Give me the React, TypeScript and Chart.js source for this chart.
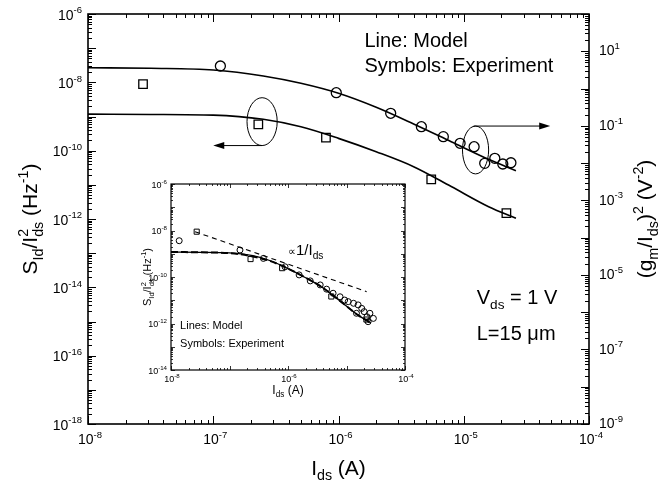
import React, { useEffect, useRef } from 'react';
import { Chart, registerables } from 'chart.js';

Chart.register(...registerables);

const W = 663;
const H = 487;
const FONT = '"Liberation Sans", Arial, Helvetica, sans-serif';

// ---------- main panel data ----------
const squareCurrent = [2.75e-8, 2.29e-7, 7.94e-7, 5.5e-6, 2.19e-5];
const squareNoise = [8.9e-9, 5.9e-10, 2.4e-10, 1.45e-11, 1.48e-12];

const circleCurrent = [1.14e-7, 9.6e-7, 2.61e-6, 4.59e-6, 6.87e-6, 9.35e-6, 1.21e-5, 1.47e-5, 1.77e-5, 2.05e-5, 2.38e-5];
const circleGm = [4.03, 0.773, 0.217, 0.0946, 0.0511, 0.034, 0.0275, 0.00986, 0.0134, 0.00944, 0.0102];

const modelCurrent = [1e-8, 3.16e-8, 1e-7, 2.51e-7, 5.01e-7, 1e-6, 2e-6, 3.98e-6, 7.94e-6, 1.58e-5, 2.61e-5];
const modelNoise = [1.17e-9, 1.15e-9, 1.1e-9, 8.3e-10, 5.0e-10, 2.29e-10, 9.3e-11, 3.39e-11, 8.9e-12, 2.29e-12, 1.05e-12];
const modelGm = [3.62, 3.49, 3.14, 2.17, 1.38, 0.745, 0.314, 0.112, 0.0375, 0.0126, 0.00625];

// ---------- inset data ----------
const insetCircleCurrent = [1.38e-8, 1.51e-7, 3.8e-7, 8.9e-7, 1.55e-6, 2.4e-6, 3.55e-6, 4.57e-6, 5.9e-6, 7.76e-6, 9.3e-6, 1.07e-5, 1.32e-5, 1.48e-5, 1.58e-5, 1.82e-5, 2.0e-5, 2.24e-5, 2.51e-5, 2.88e-5, 2.34e-5];
const insetCircleNoise = [3.63e-9, 1.45e-9, 6.3e-10, 2.75e-10, 1.23e-10, 6.8e-11, 4.57e-11, 3.0e-11, 2.0e-11, 1.41e-11, 1.02e-11, 8.7e-12, 7.4e-12, 2.75e-12, 6.3e-12, 4.47e-12, 3.24e-12, 1.95e-12, 2.75e-12, 1.66e-12, 1.2e-12];
const insetDashedNoise = [1.2e-9, 1.15e-9, 1.07e-9, 7.6e-10, 4.8e-10, 2.29e-10, 9.3e-11, 3.39e-11, 8.9e-12, 2.29e-12, 1.05e-12];
const slopeCurrent = [2.57e-8, 2.21e-5];
const slopeNoise = [8.9e-9, 2.34e-11];

// ---------- tick labels ----------
const xLabelExps = [-8, -7, -6, -5, -4];
const leftLabelExps = [-6, -8, -10, -12, -14, -16, -18];
const rightLabelExps = [1, -1, -3, -5, -7, -9];
const insetXLabelExps = [-8, -6, -4];
const insetYLabelExps = [-6, -8, -10, -12, -14];

// ---------- annotations (data coordinates) ----------
const ellipseLeft = { xMin: 1.86e-7, xMax: 3.24e-7, yMin: 1.41e-10, yMax: 3.55e-9 };
const arrowLeft = { x0: 2.45e-7, x1: 1.0e-7, y: 1.41e-10 };
const ellipseRight = { xMin: 9.77e-6, xMax: 1.58e-5, yMin: 2.09e-11, yMax: 5.25e-10 };
const arrowRight = { x0: 1.2e-5, x1: 4.9e-5, y: 5.25e-10 };

type Seg = { t: string; k?: 'sup' | 'sub' | 'ss'; t2?: string; r?: number };

const fnt = (s: number) => `${s}px ${FONT}`;
const SMALL = 0.68;

function segsWidth(ctx: CanvasRenderingContext2D, segs: Seg[], size: number) {
  let w = 0;
  for (const s of segs) {
    if (!s.k) {
      ctx.font = fnt(size * (s.r || 1));
      w += ctx.measureText(s.t).width;
    } else if (s.k === 'ss') {
      ctx.font = fnt(size * SMALL);
      w += Math.max(ctx.measureText(s.t).width, ctx.measureText(s.t2 || '').width);
    } else {
      ctx.font = fnt(size * SMALL);
      w += ctx.measureText(s.t).width;
    }
  }
  return w;
}

function drawSegs(ctx: CanvasRenderingContext2D, segs: Seg[], x: number, y: number, size: number, align: 'left' | 'center' | 'right') {
  const w = segsWidth(ctx, segs, size);
  let cx = align === 'left' ? x : align === 'center' ? x - w / 2 : x - w;
  ctx.textAlign = 'left';
  ctx.textBaseline = 'alphabetic';
  for (const s of segs) {
    if (!s.k) {
      ctx.font = fnt(size * (s.r || 1));
      ctx.fillText(s.t, cx, y);
      cx += ctx.measureText(s.t).width;
    } else if (s.k === 'sup') {
      ctx.font = fnt(size * SMALL);
      ctx.fillText(s.t, cx, y - size * 0.45);
      cx += ctx.measureText(s.t).width;
    } else if (s.k === 'sub') {
      ctx.font = fnt(size * SMALL);
      ctx.fillText(s.t, cx, y + size * 0.25);
      cx += ctx.measureText(s.t).width;
    } else {
      ctx.font = fnt(size * SMALL);
      ctx.fillText(s.t, cx, y - size * 0.45);
      ctx.fillText(s.t2 || '', cx, y + size * 0.25);
      cx += Math.max(ctx.measureText(s.t).width, ctx.measureText(s.t2 || '').width);
    }
  }
}

const pow = (e: number): Seg[] => [{ t: '10' }, { t: String(e), k: 'sup' }];

function logTicks(lo: number, hi: number) {
  const out: { v: number; major: boolean }[] = [];
  for (let d = lo; d < hi; d++) for (let m = 1; m < 10; m++) out.push({ v: m * Math.pow(10, d), major: m === 1 });
  out.push({ v: Math.pow(10, hi), major: true });
  return out;
}

function drawRotated(ctx: CanvasRenderingContext2D, segs: Seg[], cx: number, cy: number, size: number) {
  ctx.save();
  ctx.translate(cx, cy);
  ctx.rotate(-Math.PI / 2);
  drawSegs(ctx, segs, 0, size * 0.35, size, 'center');
  ctx.restore();
}

function arrowHead(ctx: CanvasRenderingContext2D, x: number, y: number, dir: number) {
  ctx.beginPath();
  ctx.moveTo(x, y);
  ctx.lineTo(x - dir * 11, y - 3.5);
  ctx.lineTo(x - dir * 11, y + 3.5);
  ctx.closePath();
  ctx.fill();
}

const mainDeco = {
  id: 'mainDeco',
  afterDraw(chart: any) {
    const { ctx, chartArea: a } = chart;
    const sx = chart.scales.x;
    const sy = chart.scales.y;
    const sy2 = chart.scales.y2;
    ctx.save();
    ctx.strokeStyle = '#000';
    ctx.fillStyle = '#000';
    ctx.lineWidth = 1;
    ctx.beginPath();
    for (const t of logTicks(-8, -4)) {
      const px = Math.round(sx.getPixelForValue(t.v)) + 0.5;
      const L = t.major ? 8 : 4;
      ctx.moveTo(px, a.bottom);
      ctx.lineTo(px, a.bottom - L);
      ctx.moveTo(px, a.top);
      ctx.lineTo(px, a.top + L);
    }
    for (const t of logTicks(-18, -6)) {
      const py = Math.round(sy.getPixelForValue(t.v)) + 0.5;
      ctx.moveTo(a.left, py);
      ctx.lineTo(a.left + (t.major ? 8 : 4), py);
    }
    for (const t of logTicks(-9, 2)) {
      const py = Math.round(sy2.getPixelForValue(t.v)) + 0.5;
      ctx.moveTo(a.right, py);
      ctx.lineTo(a.right - (t.major ? 8 : 4), py);
    }
    ctx.stroke();
    ctx.lineWidth = 1.6;
    ctx.strokeRect(a.left, a.top, a.right - a.left, a.bottom - a.top);

    // tick labels
    const ts = 14;
    for (const e of xLabelExps) {
      drawSegs(ctx, pow(e), sx.getPixelForValue(Math.pow(10, e)) + 2, a.bottom + 20, ts, 'center');
    }
    for (const e of leftLabelExps) {
      drawSegs(ctx, pow(e), a.left - 6, sy.getPixelForValue(Math.pow(10, e)) + ts * 0.4, ts, 'right');
    }
    for (const e of rightLabelExps) {
      drawSegs(ctx, pow(e), a.right + 10, sy2.getPixelForValue(Math.pow(10, e)) + ts * 0.3, ts, 'left');
    }

    // axis titles
    drawRotated(ctx, [{ t: 'S' }, { t: 'Id', k: 'sub' }, { t: '/I' }, { t: '2', k: 'ss', t2: 'ds' }, { t: ' (Hz' }, { t: '-1', k: 'sup' }, { t: ')' }], 30, (a.top + a.bottom) / 2, 21);
    drawRotated(ctx, [{ t: '(g' }, { t: 'm', k: 'sub' }, { t: '/I' }, { t: 'ds', k: 'sub' }, { t: ')' }, { t: '2', k: 'sup' }, { t: ' (V' }, { t: '-2', k: 'sup' }, { t: ')' }], 645, (a.top + a.bottom) / 2, 21);
    drawSegs(ctx, [{ t: 'I' }, { t: 'ds', k: 'sub' }, { t: ' (A)' }], (a.left + a.right) / 2, 475, 21, 'center');

    // annotation texts
    const tx = sx.getPixelForValue(1.61e-6);
    drawSegs(ctx, [{ t: 'Line: Model' }], tx, sy.getPixelForValue(1.74e-7) + 7, 20, 'left');
    drawSegs(ctx, [{ t: 'Symbols: Experiment' }], tx, sy.getPixelForValue(3.25e-8) + 7, 20, 'left');
    const vx = sx.getPixelForValue(1.27e-5);
    drawSegs(ctx, [{ t: 'V' }, { t: 'ds', k: 'sub' }, { t: ' = 1 V' }], vx, sy.getPixelForValue(5.2e-15) + 7, 20, 'left');
    drawSegs(ctx, [{ t: 'L=15 \u03bcm' }], vx, sy.getPixelForValue(4.6e-16) + 7, 20, 'left');

    // ellipses + arrows
    ctx.lineWidth = 1;
    for (const el of [ellipseLeft, ellipseRight]) {
      const x0 = sx.getPixelForValue(el.xMin);
      const x1 = sx.getPixelForValue(el.xMax);
      const y0 = sy.getPixelForValue(el.yMax);
      const y1 = sy.getPixelForValue(el.yMin);
      ctx.beginPath();
      ctx.ellipse((x0 + x1) / 2, (y0 + y1) / 2, (x1 - x0) / 2, (y1 - y0) / 2, 0, 0, Math.PI * 2);
      ctx.stroke();
    }
    for (const ar of [arrowLeft, arrowRight]) {
      const x0 = sx.getPixelForValue(ar.x0);
      const x1 = sx.getPixelForValue(ar.x1);
      const yy = sy.getPixelForValue(ar.y);
      const dir = x1 > x0 ? 1 : -1;
      ctx.beginPath();
      ctx.moveTo(x0, yy);
      ctx.lineTo(x1 - dir * 8, yy);
      ctx.stroke();
      arrowHead(ctx, x1, yy, dir);
    }
    ctx.restore();
  },
};

const insetDeco = {
  id: 'insetDeco',
  afterDraw(chart: any) {
    const { ctx, chartArea: a } = chart;
    const sx = chart.scales.x;
    const sy = chart.scales.y;
    ctx.save();
    ctx.strokeStyle = '#000';
    ctx.fillStyle = '#000';
    ctx.lineWidth = 0.8;
    ctx.beginPath();
    for (const t of logTicks(-8, -4)) {
      const px = Math.round(sx.getPixelForValue(t.v)) + 0.5;
      const L = t.major ? 4 : 2;
      ctx.moveTo(px, a.bottom);
      ctx.lineTo(px, a.bottom - L);
      ctx.moveTo(px, a.top);
      ctx.lineTo(px, a.top + L);
    }
    for (const t of logTicks(-14, -6)) {
      const py = Math.round(sy.getPixelForValue(t.v)) + 0.5;
      const L = t.major ? 4 : 2;
      ctx.moveTo(a.left, py);
      ctx.lineTo(a.left + L, py);
      ctx.moveTo(a.right, py);
      ctx.lineTo(a.right - L, py);
    }
    ctx.stroke();
    ctx.lineWidth = 1.2;
    ctx.strokeRect(a.left, a.top, a.right - a.left, a.bottom - a.top);

    const ts = 9;
    for (const e of insetXLabelExps) {
      drawSegs(ctx, pow(e), sx.getPixelForValue(Math.pow(10, e)) + 1, a.bottom + 12, ts, 'center');
    }
    for (const e of insetYLabelExps) {
      drawSegs(ctx, pow(e), a.left - 4, sy.getPixelForValue(Math.pow(10, e)) + ts * 0.4, ts, 'right');
    }
    drawRotated(ctx, [{ t: 'S' }, { t: 'Id', k: 'sub' }, { t: '/I' }, { t: '2', k: 'ss', t2: 'ds' }, { t: ' (Hz' }, { t: '-1', k: 'sup' }, { t: ')' }], 147, (a.top + a.bottom) / 2, 11);
    drawSegs(ctx, [{ t: 'I' }, { t: 'ds', k: 'sub' }, { t: ' (A)' }], (a.left + a.right) / 2, a.bottom + 24, 12, 'center');

    const lx = sx.getPixelForValue(1.43e-8);
    drawSegs(ctx, [{ t: 'Lines: Model' }], lx, sy.getPixelForValue(8.7e-13) + 4, 11, 'left');
    drawSegs(ctx, [{ t: 'Symbols: Experiment' }], lx, sy.getPixelForValue(1.45e-13) + 4, 11, 'left');
    drawSegs(ctx, [{ t: '\u221d', r: 0.75 }, { t: '1/I' }, { t: 'ds', k: 'sub' }], sx.getPixelForValue(1e-6), sy.getPixelForValue(1.45e-9) + 5, 15, 'left');
    ctx.restore();
  },
};

const pts = (xs: number[], ys: number[]) => xs.map((x, i) => ({ x, y: ys[i] }));

const hiddenScale = (extra: any) => ({
  type: 'logarithmic',
  grid: { display: false },
  border: { display: false },
  ticks: { display: false },
  ...extra,
});

export default function App() {
  const mainRef = useRef<HTMLCanvasElement>(null);
  const insetRef = useRef<HTMLCanvasElement>(null);

  useEffect(() => {
    const common = {
      responsive: false,
      animation: false,
      events: [],
      plugins: { legend: { display: false }, tooltip: { enabled: false } },
    };
    const main = new Chart(mainRef.current as HTMLCanvasElement, {
      type: 'scatter',
      data: {
        datasets: [
          { data: pts(modelCurrent, modelNoise), yAxisID: 'y', showLine: true, borderColor: '#000', borderWidth: 1.6, pointRadius: 0, pointHoverRadius: 0, cubicInterpolationMode: 'monotone', fill: false },
          { data: pts(modelCurrent, modelGm), yAxisID: 'y2', showLine: true, borderColor: '#000', borderWidth: 1.6, pointRadius: 0, pointHoverRadius: 0, cubicInterpolationMode: 'monotone', fill: false },
          { data: pts(squareCurrent, squareNoise), yAxisID: 'y', showLine: false, pointStyle: 'rect', pointRadius: 6, pointBorderWidth: 1.3, pointBorderColor: '#000', pointBackgroundColor: 'rgba(0,0,0,0)' },
          { data: pts(circleCurrent, circleGm), yAxisID: 'y2', showLine: false, pointStyle: 'circle', pointRadius: 5, pointBorderWidth: 1.3, pointBorderColor: '#000', pointBackgroundColor: 'rgba(0,0,0,0)' },
        ],
      },
      options: {
        ...common,
        layout: { padding: { top: 14, left: 0, right: 0, bottom: 0 } },
        scales: {
          x: hiddenScale({ position: 'bottom', min: 1e-8, max: 1e-4, afterFit: (s: any) => { s.height = H - 424; } }),
          y: hiddenScale({ position: 'left', min: 1e-18, max: 1e-6, afterFit: (s: any) => { s.width = 88; } }),
          y2: hiddenScale({ position: 'right', min: 1e-9, max: 1e2, afterFit: (s: any) => { s.width = W - 589; } }),
        },
      } as any,
      plugins: [mainDeco],
    } as any);

    const inset = new Chart(insetRef.current as HTMLCanvasElement, {
      type: 'scatter',
      data: {
        datasets: [
          { data: pts(slopeCurrent, slopeNoise), showLine: true, borderColor: '#000', borderWidth: 1.1, borderDash: [5, 4], pointRadius: 0, pointHoverRadius: 0, fill: false },
          { data: pts(modelCurrent, insetDashedNoise), showLine: true, borderColor: '#000', borderWidth: 2, borderDash: [7, 3], pointRadius: 0, pointHoverRadius: 0, cubicInterpolationMode: 'monotone', fill: false },
          { data: pts(modelCurrent, modelNoise), showLine: true, borderColor: '#000', borderWidth: 1.3, pointRadius: 0, pointHoverRadius: 0, cubicInterpolationMode: 'monotone', fill: false },
          { data: pts(squareCurrent, squareNoise), showLine: false, pointStyle: 'rect', pointRadius: 3.6, pointBorderWidth: 1, pointBorderColor: '#000', pointBackgroundColor: 'rgba(0,0,0,0)' },
          { data: pts(insetCircleCurrent, insetCircleNoise), showLine: false, pointStyle: 'circle', pointRadius: 3, pointBorderWidth: 1, pointBorderColor: '#000', pointBackgroundColor: 'rgba(0,0,0,0)' },
        ],
      },
      options: {
        ...common,
        layout: { padding: { top: 184, left: 0, right: W - 405, bottom: 0 } },
        scales: {
          x: hiddenScale({ position: 'bottom', min: 1e-8, max: 1e-4, afterFit: (s: any) => { s.height = H - 370; } }),
          y: hiddenScale({ position: 'left', min: 1e-14, max: 1e-6, afterFit: (s: any) => { s.width = 171; } }),
        },
      } as any,
      plugins: [insetDeco],
    } as any);

    return () => {
      main.destroy();
      inset.destroy();
    };
  }, []);

  return (
    <div style={{ position: 'fixed', left: 0, top: 0, width: W, height: H, background: '#fff' }}>
      <canvas ref={mainRef} width={W} height={H} style={{ position: 'absolute', left: 0, top: 0, display: 'block' }} />
      <canvas ref={insetRef} width={W} height={H} style={{ position: 'absolute', left: 0, top: 0, display: 'block', pointerEvents: 'none' }} />
    </div>
  );
}
